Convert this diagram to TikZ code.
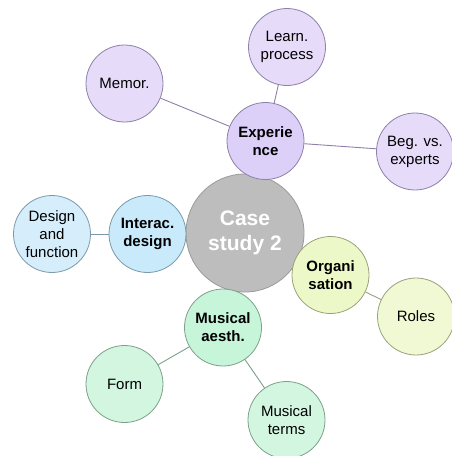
\documentclass[tikz,border=0pt]{standalone}
\usepackage{fontspec}
\setmainfont{Liberation Sans}
\definecolor{purpfill}{HTML}{E6DCF9}
\definecolor{purpmain}{HTML}{DCCFF8}
\definecolor{purpline}{HTML}{8E80A8}
\definecolor{bluefill}{HTML}{D6EEFB}
\definecolor{bluemain}{HTML}{C9EAFB}
\definecolor{blueline}{HTML}{7A9AAA}
\definecolor{yelfill}{HTML}{F0F9D4}
\definecolor{yelmain}{HTML}{EDF8C9}
\definecolor{yelline}{HTML}{98A27A}
\definecolor{grnfill}{HTML}{D3F6E1}
\definecolor{grnmain}{HTML}{C6F5DA}
\definecolor{grnline}{HTML}{7CA08A}
\definecolor{grayfill}{HTML}{BDBDBD}
\definecolor{grayline}{HTML}{9A9A9A}
\begin{document}
\begin{tikzpicture}[x=1pt,y=-1pt,
  bubble/.style={circle,inner sep=0pt,minimum size=77pt,align=center,
    font=\fontsize{15}{18}\selectfont,line width=0.8pt},
  mainbubble/.style={bubble,font=\fontsize{15}{18}\selectfont\bfseries},
  link/.style={line width=0.9pt}]
\useasboundingbox (0,0) rectangle (452,456);
% centre
\node[circle,inner sep=0pt,minimum size=118pt,align=center,fill=grayfill,draw=grayline,
  line width=0.8pt,text=white,font=\fontsize{21}{25}\selectfont\bfseries] (cs) at (245,233) {Case\\study 2};
% experience group
\node[mainbubble,fill=purpmain,draw=purpline] (exp) at (265.5,141) {Experie\\nce};
\node[bubble,fill=purpfill,draw=purpline] (learn) at (287,47) {Learn.\\process};
\node[bubble,fill=purpfill,draw=purpline] (memor) at (124.5,83.5) {Memor.};
\node[bubble,fill=purpfill,draw=purpline] (beg) at (415,151.5) {Beg. vs.\\experts};
% interaction design
\node[mainbubble,fill=bluemain,draw=blueline] (inter) at (147.5,234) {Interac.\\design};
\node[bubble,fill=bluefill,draw=blueline] (design) at (52,234) {Design\\and\\function};
% organisation
\node[mainbubble,fill=yelmain,draw=yelline] (org) at (330.5,275) {Organi\\sation};
\node[bubble,fill=yelfill,draw=yelline] (roles) at (416,316.5) {Roles};
% musical aesthetics
\node[mainbubble,fill=grnmain,draw=grnline] (mus) at (223,327.5) {Musical\\aesth.};
\node[bubble,fill=grnfill,draw=grnline] (form) at (124.5,384) {Form};
\node[bubble,fill=grnfill,draw=grnline] (terms) at (286.5,420) {Musical\\terms};
% links
\draw[link,draw=purpline] (memor) -- (exp);
\draw[link,draw=purpline] (learn) -- (exp);
\draw[link,draw=purpline] (beg) -- (exp);
\draw[link,draw=blueline] (design) -- (inter);
\draw[link,draw=yelline] (org) -- (roles);
\draw[link,draw=grnline] (mus) -- (form);
\draw[link,draw=grnline] (mus) -- (terms);
\end{tikzpicture}
\end{document}
